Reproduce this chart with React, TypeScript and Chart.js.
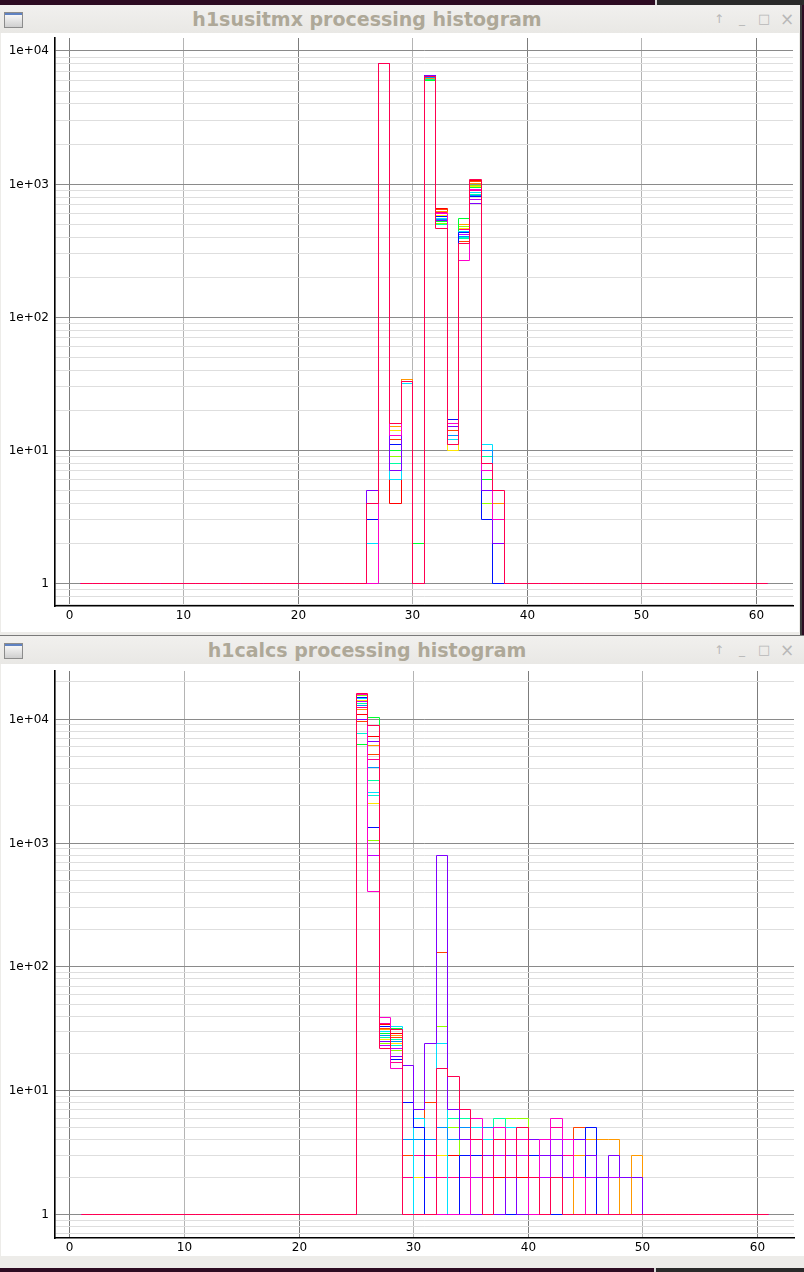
import React, { useEffect, useRef } from "react";
import { Chart, registerables } from "chart.js";

Chart.register(...registerables);

// ---------- axis data ----------
const X_TICKS = [0, 10, 20, 30, 40, 50, 60];
const Y_DECADES = [1, 10, 100, 1000, 10000];
const Y_DECADE_LABELS = ["1", "1e+01", "1e+02", "1e+03", "1e+04"];
const Y_MINOR_STEPS = [2, 3, 4, 5, 6, 7, 8, 9];
const Y_SUB_ONE = [0.7, 0.8, 0.9];
const FIRST_EDGE = 1;
const LAST_EDGE = 61;
const EMPTY_BIN = 1;

// ---------- series colours (first one is drawn on top) ----------
const SERIES_COLORS = [
  "#ff0050", // crimson
  "#ff00cc", // magenta
  "#8000ff", // purple
  "#0010ff", // blue
  "#0090ff", // azure
  "#00e0ff", // cyan
  "#00ffa0", // spring
  "#00ff30", // green
  "#90ff00", // lime
  "#ffe600", // yellow
  "#ff9900", // orange
  "#ff4400", // red-orange
  "#ff0000", // red
  "#c000ff", // violet
  "#ff0090", // pink
  "#00f0d8", // teal
];

// ---------- h1susitmx: bins 26..37 ----------
const TOP_FIRST_BIN = 26;
const topCrimson = [4, 8000, 16, 33, 1, 6450, 465, 11, 360, 1085, 8, 5];
const topMagenta = [1, 8000, 13, 33, 1, 6400, 600, 16, 268, 910, 7, 3];
const topPurple = [5, 8000, 7, 33, 1, 6550, 530, 15, 355, 716, 5, 2];
const topBlue = [3, 8000, 11, 33, 1, 6600, 570, 17, 430, 803, 3, 1];
const topAzure = [1, 8000, 11, 33, 1, 6350, 540, 13, 407, 820, 10, 2];
const topCyan = [2, 8000, 6, 32, 1, 6300, 555, 12, 440, 860, 11, 1];
const topSpring = [1, 8000, 8, 32, 1, 6150, 495, 12, 390, 840, 9, 3];
const topGreen = [1, 8000, 10, 32, 2, 6000, 520, 13, 550, 940, 6, 2];
const topLime = [1, 8000, 9, 33, 1, 6050, 510, 11, 480, 980, 4, 1];
const topYellow = [1, 8000, 14, 33, 1, 6100, 585, 10, 465, 960, 4, 1];
const topOrange = [1, 8000, 15, 34, 1, 6200, 625, 13, 498, 1010, 9, 4];
const topRedOrange = [1, 8000, 12, 34, 1, 6250, 640, 14, 370, 1040, 6, 4];
const topRed = [1, 8000, 4, 34, 1, 6500, 656, 14, 368, 1060, 6, 4];
const topViolet = [1, 8000, 7, 33, 1, 6500, 545, 15, 420, 760, 4, 2];
const topPink = [1, 8000, 12, 33, 1, 6400, 610, 13, 455, 900, 7, 3];
const topTeal = [1, 8000, 6, 32, 1, 6300, 500, 12, 395, 870, 5, 1];

// ---------- h1calcs: bins 25..49 ----------
const BOTTOM_FIRST_BIN = 25;
const botCrimson = [16000, 8900, 22, 31, 1, 1, 1, 15, 13, 7, 4, 1, 4, 2, 5, 2, 1, 2, 1, 1, 1, 1, 1, 1, 1];
const botMagenta = [15700, 403, 39, 15, 1, 1, 1, 1, 1, 1, 6, 1, 5, 4, 4, 1, 4, 6, 4, 2, 1, 1, 1, 1, 1];
const botPurple = [10000, 6630, 25, 19, 16, 7, 24, 800, 7, 4, 1, 3, 1, 3, 1, 4, 3, 3, 2, 4, 3, 2, 3, 2, 2];
const botBlue = [15000, 1330, 33, 18, 8, 5, 1, 1, 1, 3, 3, 1, 1, 1, 1, 3, 1, 1, 1, 1, 5, 1, 1, 1, 1];
const botAzure = [13000, 4060, 28, 25, 4, 4, 4, 5, 4, 5, 1, 5, 1, 1, 1, 1, 1, 1, 1, 1, 1, 1, 1, 1, 1];
const botCyan = [14600, 2550, 30, 33, 1, 6, 1, 24, 1, 1, 5, 4, 1, 5, 1, 1, 1, 1, 1, 1, 1, 1, 1, 1, 1];
const botSpring = [13400, 3210, 27, 26, 1, 1, 1, 1, 6, 6, 1, 1, 6, 1, 1, 1, 1, 1, 1, 1, 1, 1, 1, 1, 1];
const botGreen = [6240, 10300, 29, 32, 1, 1, 1, 1, 1, 1, 1, 1, 1, 1, 1, 1, 1, 1, 1, 1, 1, 1, 1, 1, 1];
const botLime = [15400, 1040, 24, 21, 1, 1, 1, 33, 5, 1, 1, 1, 1, 6, 6, 1, 1, 1, 1, 1, 1, 1, 1, 1, 1];
const botYellow = [14200, 2080, 26, 24, 1, 2, 1, 3, 1, 1, 1, 1, 1, 1, 1, 1, 1, 1, 1, 1, 1, 1, 1, 1, 1];
const botOrange = [12000, 6150, 31, 28, 1, 1, 1, 1, 1, 1, 1, 1, 1, 1, 1, 1, 1, 1, 1, 3, 4, 4, 4, 1, 3];
const botRedOrange = [9500, 5180, 32, 27, 3, 1, 8, 130, 1, 1, 1, 1, 1, 1, 1, 1, 1, 1, 1, 5, 1, 1, 1, 1, 1];
const botRed = [11000, 7250, 34, 29, 1, 1, 1, 1, 3, 1, 1, 1, 2, 1, 2, 1, 1, 1, 1, 1, 1, 1, 1, 1, 1];
const botViolet = [13800, 800, 23, 22, 1, 1, 2, 1, 1, 1, 2, 1, 3, 1, 3, 1, 2, 4, 1, 1, 2, 1, 2, 1, 1];
const botPink = [12500, 4720, 35, 17, 2, 3, 3, 2, 2, 2, 1, 2, 1, 1, 1, 1, 1, 5, 3, 1, 1, 1, 1, 1, 1];
const botTeal = [7700, 2430, 26, 23, 1, 1, 1, 1, 1, 1, 1, 1, 1, 1, 1, 1, 1, 1, 1, 1, 1, 1, 1, 1, 1];

const TOP_SERIES = [
  topCrimson, topMagenta, topPurple, topBlue, topAzure, topCyan, topSpring, topGreen,
  topLime, topYellow, topOrange, topRedOrange, topRed, topViolet, topPink, topTeal,
];
const BOTTOM_SERIES = [
  botCrimson, botMagenta, botPurple, botBlue, botAzure, botCyan, botSpring, botGreen,
  botLime, botYellow, botOrange, botRedOrange, botRed, botViolet, botPink, botTeal,
];

function toPoints(values: number[], firstBin: number) {
  const pts: { x: number; y: number }[] = [];
  for (let edge = FIRST_EDGE; edge < LAST_EDGE; edge++) {
    const i = edge - firstBin;
    pts.push({ x: edge, y: i >= 0 && i < values.length ? values[i] : EMPTY_BIN });
  }
  pts.push({ x: LAST_EDGE, y: pts[pts.length - 1].y });
  return pts;
}

function logGridValues(min: number, max: number) {
  const out: number[] = [];
  Y_SUB_ONE.forEach((v) => {
    if (v >= min && v <= max) out.push(v);
  });
  Y_DECADES.forEach((d) => {
    if (d <= max) out.push(d);
    Y_MINOR_STEPS.forEach((m) => {
      const v = d * m;
      if (v <= max) out.push(v);
    });
  });
  return out;
}

function isDecade(v: number) {
  const l = Math.log10(v);
  return Math.abs(l - Math.round(l)) < 1e-9;
}

// snap the scale's pixel mapping to pixel centres so that 1px lines stay crisp
function snapToPixels(scale: any) {
  if (scale.__snapped) return;
  const base = Object.getPrototypeOf(scale).getPixelForValue;
  scale.getPixelForValue = function (value: number, index?: number) {
    return Math.floor(base.call(this, value, index)) + 0.5;
  };
  scale.__snapped = true;
}

type HistProps = {
  series: number[][];
  firstBin: number;
  left: number;
  top: number;
  width: number;
  height: number;
  padTop: number;
  padRight: number;
  yAxisWidth: number;
  xAxisHeight: number;
  xMin: number;
  xMax: number;
  yMin: number;
  yMax: number;
};

function Histogram(p: HistProps) {
  const ref = useRef<HTMLCanvasElement | null>(null);
  useEffect(() => {
    const canvas = ref.current;
    if (!canvas) return;
    const font = { family: "'DejaVu Sans', sans-serif", size: 12 };
    const chart = new Chart(canvas, {
      type: "line",
      data: {
        datasets: p.series.map((s, i) => ({
          data: toPoints(s, p.firstBin),
          borderColor: SERIES_COLORS[i],
          borderWidth: 1,
          pointRadius: 0,
          stepped: true,
          fill: false,
          tension: 0,
        })),
      },
      options: {
        animation: false,
        responsive: false,
        maintainAspectRatio: false,
        events: [],
        layout: {
          autoPadding: false,
          padding: { left: 0, right: p.padRight, top: p.padTop, bottom: 0 },
        },
        plugins: { legend: { display: false }, tooltip: { enabled: false } },
        scales: {
          x: {
            type: "linear",
            min: p.xMin,
            max: p.xMax,
            bounds: "data",
            afterBuildTicks: (scale: any) => {
              scale.ticks = X_TICKS.map((v) => ({ value: v }));
            },
            afterFit: (scale: any) => {
              scale.height = p.xAxisHeight;
              scale.paddingLeft = 0;
              scale.paddingRight = 0;
            },
            afterUpdate: snapToPixels,
            grid: {
              drawTicks: false,
              lineWidth: 1,
              color: (ctx: any) =>
                ctx.tick && ctx.tick.value % 20 === 0 ? "#7c7c7c" : "#b4b4b4",
            },
            border: { display: true, color: "#000000", width: 1.6 },
            ticks: {
              font,
              color: "#000000",
              padding: 3,
              maxRotation: 0,
              autoSkip: false,
              callback: (v: any) => String(v),
            },
          },
          y: {
            type: "logarithmic",
            min: p.yMin,
            max: p.yMax,
            bounds: "data",
            afterBuildTicks: (scale: any) => {
              scale.ticks = logGridValues(p.yMin, p.yMax).map((v) => ({ value: v }));
            },
            afterFit: (scale: any) => {
              scale.width = p.yAxisWidth;
              scale.paddingTop = 0;
              scale.paddingBottom = 0;
            },
            afterUpdate: snapToPixels,
            grid: {
              drawTicks: false,
              lineWidth: 1,
              color: (ctx: any) =>
                ctx.tick && isDecade(ctx.tick.value) ? "#8a8a8a" : "#dedede",
            },
            border: { display: true, color: "#000000", width: 1.6 },
            ticks: {
              font,
              color: "#000000",
              padding: 6,
              autoSkip: false,
              callback: (v: any) => {
                const i = Y_DECADES.indexOf(Number(v));
                return i >= 0 ? Y_DECADE_LABELS[i] : "";
              },
            },
          },
        },
      } as any,
    });
    return () => chart.destroy();
  }, []);
  return (
    <canvas
      ref={ref}
      width={p.width}
      height={p.height}
      style={{ position: "absolute", left: p.left, top: p.top, width: p.width, height: p.height }}
    />
  );
}

function TitleBar({ top, width, title }: { top: number; width: number; title: string }) {
  return (
    <div
      style={{
        position: "absolute",
        left: 0,
        top,
        width,
        height: 28,
        background: "linear-gradient(#f1f0ee, #e9e8e5)",
      }}
    >
      <div
        style={{
          position: "absolute",
          left: 4,
          top: 7,
          width: 17,
          height: 14,
          border: "1px solid #8c8c8c",
          background: "linear-gradient(#fdfdfd, #cfcfcf)",
          boxSizing: "content-box",
        }}
      >
        <div style={{ height: 2, background: "#5f82c2" }} />
      </div>
      <div
        style={{
          position: "absolute",
          left: 24,
          width: 686,
          top: 0,
          height: 28,
          lineHeight: "28px",
          textAlign: "center",
          fontFamily: "'DejaVu Sans', sans-serif",
          fontWeight: "bold",
          fontSize: 19,
          color: "#aea898",
          whiteSpace: "nowrap",
        }}
      >
        {title}
      </div>
      {[
        { x: 713, ch: "↑", size: 12 },
        { x: 736, ch: "_", size: 12 },
        { x: 758, ch: "□", size: 13 },
        { x: 780, ch: "×", size: 17 },
      ].map((b) => (
        <div
          key={b.x}
          style={{
            position: "absolute",
            left: b.x,
            top: 0,
            width: 12,
            height: 28,
            lineHeight: "28px",
            textAlign: "center",
            fontFamily: "'DejaVu Sans', sans-serif",
            fontSize: b.size,
            color: "#b8b8b8",
          }}
        >
          {b.ch}
        </div>
      ))}
    </div>
  );
}

export default function App() {
  return (
    <div
      style={{
        position: "fixed",
        left: 0,
        top: 0,
        width: 804,
        height: 1272,
        background: "#2d0b22",
        overflow: "hidden",
      }}
    >
      {/* desktop strips */}
      <div style={{ position: "absolute", left: 655, top: 0, width: 2, height: 5, background: "#d8d8d8" }} />
      <div style={{ position: "absolute", left: 657, top: 0, width: 147, height: 5, background: "#2a2a2a" }} />
      <div style={{ position: "absolute", left: 654, top: 1267, width: 2, height: 5, background: "#d8d8d8" }} />
      <div style={{ position: "absolute", left: 656, top: 1267, width: 148, height: 5, background: "#2a2a2a" }} />

      {/* top window */}
      <div
        style={{
          position: "absolute",
          left: 0,
          top: 5,
          width: 800,
          height: 630,
          background: "#edece9",
          borderRight: "2px solid #3c3c3c",
        }}
      >
        <TitleBar top={0} width={800} title="h1susitmx processing histogram" />
        <div style={{ position: "absolute", left: 1, top: 28, width: 798, height: 599, background: "#ffffff" }} />
      </div>
      <Histogram
        series={TOP_SERIES}
        firstBin={TOP_FIRST_BIN}
        left={0}
        top={33}
        width={800}
        height={599}
        padTop={5}
        padRight={7}
        yAxisWidth={55}
        xAxisHeight={26}
        xMin={-1.24}
        xMax={63.21}
        yMin={0.6776}
        yMax={12520}
      />

      {/* bottom window */}
      <div
        style={{
          position: "absolute",
          left: 0,
          top: 635,
          width: 804,
          height: 632,
          background: "#edece9",
          borderTop: "1px solid #7a7a7a",
        }}
      >
        <TitleBar top={0} width={804} title="h1calcs processing histogram" />
        <div style={{ position: "absolute", left: 1, top: 28, width: 803, height: 592, background: "#ffffff" }} />
      </div>
      <Histogram
        series={BOTTOM_SERIES}
        firstBin={BOTTOM_FIRST_BIN}
        left={0}
        top={664}
        width={804}
        height={592}
        padTop={7}
        padRight={10}
        yAxisWidth={55}
        xAxisHeight={18}
        xMin={-1.31}
        xMax={63.23}
        yMin={0.6458}
        yMax={24500}
      />
    </div>
  );
}
